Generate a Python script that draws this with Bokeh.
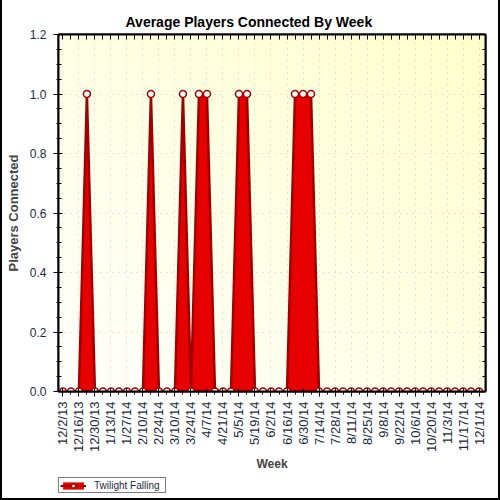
import math
import numpy as np
from bokeh.plotting import figure
from bokeh.layouts import column
from bokeh.models import (ColumnDataSource, FixedTicker, LinearAxis, Range1d,
                          Legend, LegendItem, PrintfTickFormatter)
from bokeh.embed import file_html
from bokeh.resources import INLINE

# Weekly buckets (Monday of each week)
weeks = ["12/2/13", "12/9/13", "12/16/13", "12/23/13", "12/30/13", "1/6/14",
         "1/13/14", "1/20/14", "1/27/14", "2/3/14", "2/10/14", "2/17/14",
         "2/24/14", "3/3/14", "3/10/14", "3/17/14", "3/24/14", "3/31/14",
         "4/7/14", "4/14/14", "4/21/14", "4/28/14", "5/5/14", "5/12/14",
         "5/19/14", "5/26/14", "6/2/14", "6/9/14", "6/16/14", "6/23/14",
         "6/30/14", "7/7/14", "7/14/14", "7/21/14", "7/28/14", "8/4/14",
         "8/11/14", "8/18/14", "8/25/14", "9/1/14", "9/8/14", "9/15/14",
         "9/22/14", "9/29/14", "10/6/14", "10/13/14", "10/20/14", "10/27/14",
         "11/3/14", "11/10/14", "11/17/14", "11/24/14", "12/1/14"]

# Average players connected for "Twilight Falling"
players = [0, 0, 0, 1.0, 0, 0, 0, 0, 0, 0, 0, 1.0,
           0, 0, 0, 1.0, 0, 1.0, 1.0, 0, 0, 0, 1.0, 1.0,
           0, 0, 0, 0, 0, 1.0, 1.0, 1.0, 0, 0, 0, 0,
           0, 0, 0, 0, 0, 0, 0, 0, 0, 0, 0, 0,
           0, 0, 0, 0, 0]

y_ticks = [0.0, 0.2, 0.4, 0.6, 0.8, 1.0, 1.2]
y_minor = [round(i * 0.05, 2) for i in range(25)]

series_name = "Twilight Falling"

FILL = "#e60000"
EDGE = "#a00000"
FONT = "Liberation Sans"
TICK_TEXT = "#1a2a40"

idx = list(range(len(weeks)))
src = ColumnDataSource(dict(x=idx, y=players, week=weeks))

x0, x1 = -0.55, len(weeks) - 0.2
p = figure(width=496, height=474, output_backend="svg", toolbar_location=None,
           x_range=Range1d(x0, x1), y_range=Range1d(0, 1.2),
           min_border_left=56, min_border_right=13,
           min_border_top=34, min_border_bottom=82,
           background_fill_color="#ffffee", border_fill_color="white")

# soft diagonal wash behind the data
H, W = 60, 60
img = np.empty((H, W), dtype=np.uint32)
view = img.view(dtype=np.uint8).reshape((H, W, 4))
u = np.linspace(0, 1, W)[None, :]
v = np.linspace(0, 1, H)[:, None]
t = (u + v) / 2.0
view[:, :, 0] = 255
view[:, :, 1] = 255
view[:, :, 2] = (253 - 48 * t).astype(np.uint8)
view[:, :, 3] = 255
bg = p.image_rgba(image=[img], x=x0, y=0, dw=x1 - x0, dh=1.2)
bg.level = "image"

# title
p.title.text = "Average Players Connected By Week"
p.title.align = "left"
p.title.offset = 67
p.title.text_font = FONT
p.title.text_font_size = "14px"
p.title.text_font_style = "bold"
p.title.text_color = "black"

# frame
p.outline_line_color = "black"
p.outline_line_width = 2

major_x = idx[::2]
# bottom axis
xa = p.xaxis[0]
xa.ticker = FixedTicker(ticks=major_x, minor_ticks=idx)
xa.major_label_overrides = {i: weeks[i] for i in major_x}
xa.major_label_orientation = math.pi / 2
xa.major_label_text_font = FONT
xa.major_label_text_font_size = "13px"
xa.major_label_text_color = TICK_TEXT
xa.major_label_standoff = 5
xa.major_tick_in = 3
xa.major_tick_out = 5
xa.minor_tick_in = 0
xa.minor_tick_out = 3
xa.axis_line_color = "black"
xa.axis_line_width = 2
xa.axis_label = "Week"
xa.axis_label_text_font = FONT
xa.axis_label_text_font_size = "12px"
xa.axis_label_text_font_style = "bold"
xa.axis_label_standoff = 2

# left axis
ya = p.yaxis[0]
ya.ticker = FixedTicker(ticks=y_ticks, minor_ticks=y_minor)
ya.formatter = PrintfTickFormatter(format="%.1f")
ya.major_label_text_font = FONT
ya.major_label_text_font_size = "12px"
ya.major_label_text_color = TICK_TEXT
ya.major_label_standoff = 7
ya.major_tick_in = 4
ya.major_tick_out = 5
ya.minor_tick_in = 3
ya.minor_tick_out = 2
ya.axis_line_width = 2
ya.axis_label = "Players Connected"
ya.axis_label_text_font = FONT
ya.axis_label_text_font_size = "13px"
ya.axis_label_text_font_style = "bold"
ya.axis_label_standoff = 6

# tick-only axes on top and right
top = LinearAxis(ticker=FixedTicker(ticks=idx, minor_ticks=[]),
                 major_label_text_font_size="0px", major_label_standoff=0,
                 major_tick_in=5, major_tick_out=0, axis_line_width=2)
top.major_label_overrides = {i: "" for i in idx}
p.add_layout(top, "above")
right = LinearAxis(ticker=FixedTicker(ticks=y_ticks, minor_ticks=y_minor),
                   major_label_text_font_size="0px", major_label_standoff=0,
                   major_tick_in=5, major_tick_out=0, minor_tick_in=3,
                   minor_tick_out=0, axis_line_width=2)
right.major_label_overrides = {t: "" for t in y_ticks}
p.add_layout(right, "right")

# dotted grid
for g in (p.xgrid[0], p.ygrid[0]):
    g.grid_line_color = "#c8c8c8"
    g.grid_line_dash = "1 5"
    g.grid_line_width = 1
p.xgrid[0].ticker = FixedTicker(ticks=major_x)
p.ygrid[0].ticker = FixedTicker(ticks=y_ticks)

# the series: filled area, outline and markers
area = p.varea(x="x", y1=0, y2="y", source=src, fill_color=FILL)
line = p.line(x="x", y="y", source=src, line_color=EDGE, line_width=2.5)
pts = p.scatter(x="x", y="y", source=src, marker="circle", size=7,
                fill_color="white", line_color=EDGE, line_width=1.5)

# strip underneath the chart that carries the legend; its ranges sit away
# from the data so only the legend swatch of these renderers is seen
key = figure(width=496, height=24, output_backend="svg", toolbar_location=None,
             x_range=Range1d(1000, 1001), y_range=Range1d(1000, 1001),
             x_axis_type=None, y_axis_type=None,
             min_border_left=0, min_border_right=0,
             min_border_top=0, min_border_bottom=0,
             outline_line_color=None, background_fill_color="white",
             border_fill_color="white")
key.grid.visible = False
k_area = key.varea(x="x", y1=0, y2="y", source=src, fill_color=FILL)
k_line = key.line(x="x", y="y", source=src, line_color=EDGE, line_width=2)
k_pts = key.scatter(x="x", y="y", source=src, marker="square", size=7,
                    fill_color="white", line_color=EDGE, line_width=1.2)

legend = Legend(items=[LegendItem(label=series_name,
                                  renderers=[k_area, k_line, k_pts])],
                location=(0, 5), orientation="horizontal",
                border_line_color="black", border_line_width=1,
                background_fill_color="white", background_fill_alpha=1,
                padding=1, margin=0, spacing=0, label_standoff=8,
                glyph_width=26, glyph_height=9, label_height=12,
                label_width=70,
                label_text_font=FONT, label_text_font_size="10px",
                label_text_color=TICK_TEXT)
key.add_layout(legend, "center")

page = column(p, key, spacing=0)
# black rule down the sides and along the bottom of the chart
page.styles = {"border-left": "2px solid black",
               "border-right": "2px solid black",
               "border-bottom": "2px solid black"}

open("out.html", "w").write(file_html(page, INLINE))
